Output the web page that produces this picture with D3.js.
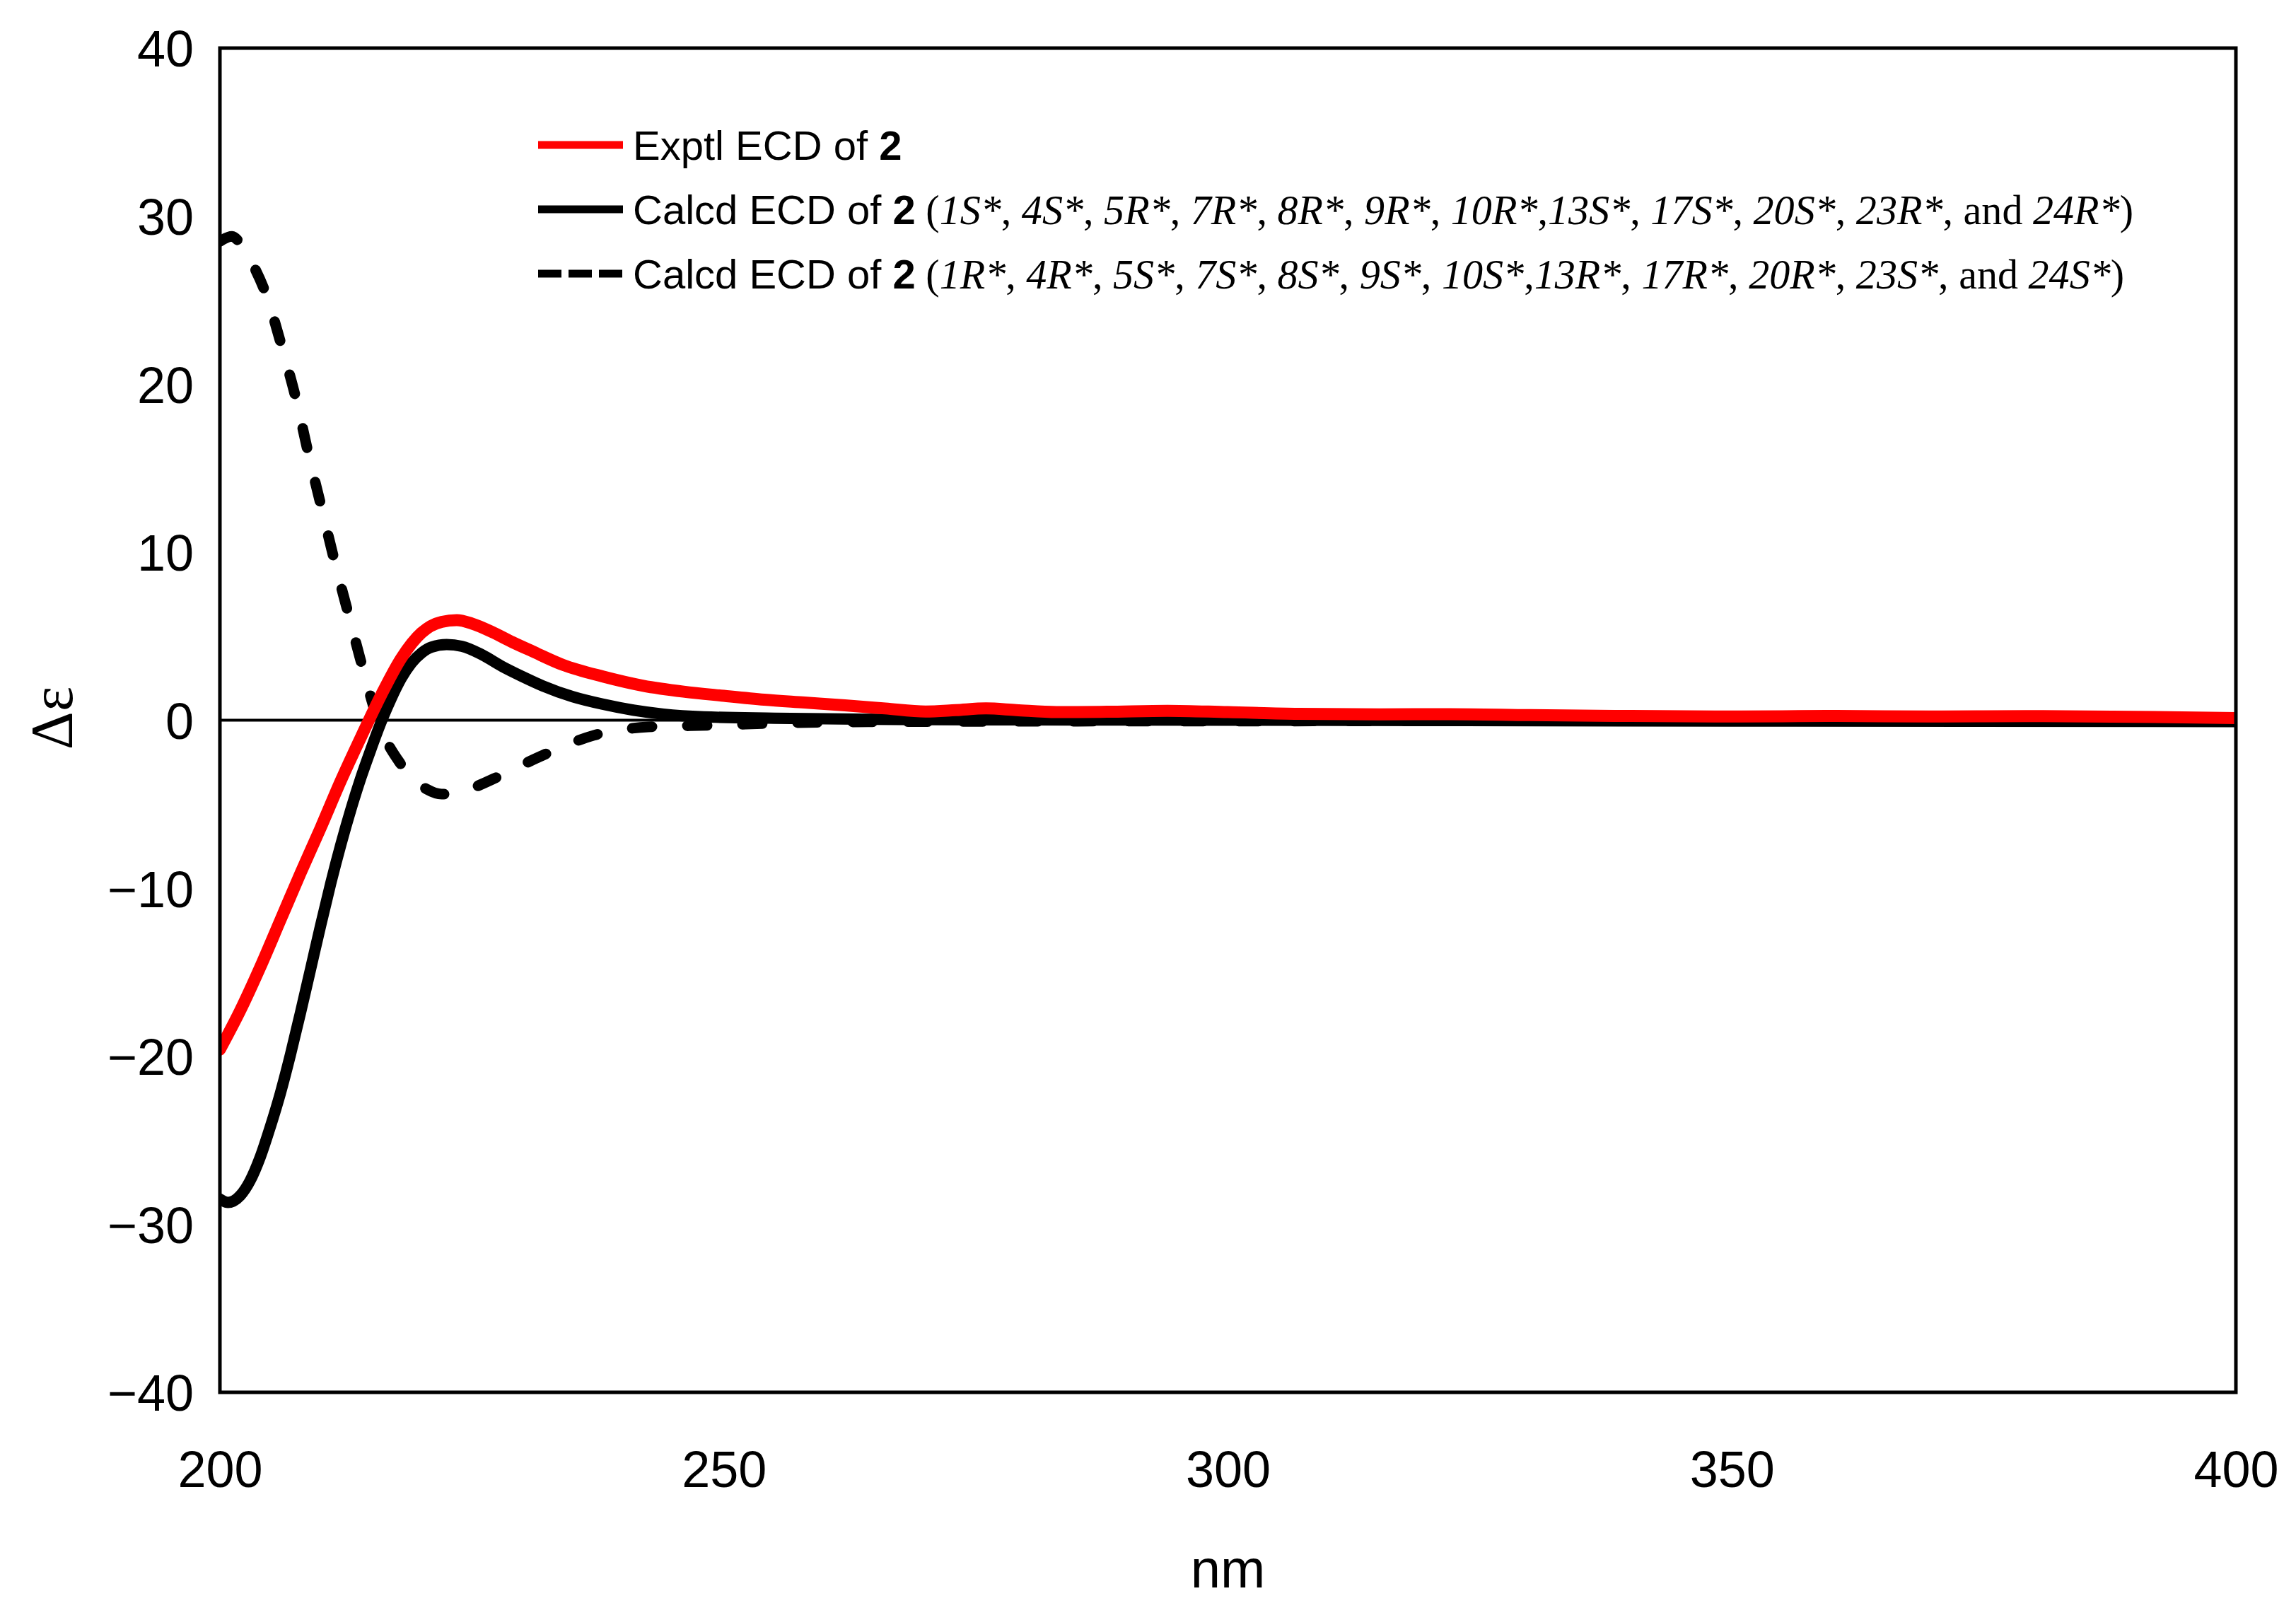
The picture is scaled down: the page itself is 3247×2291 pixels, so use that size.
<!DOCTYPE html>
<html>
<head>
<meta charset="utf-8">
<script src="https://cdn.jsdelivr.net/npm/d3@7"></script>
<style>
  html, body { margin: 0; padding: 0; background: #fff; }
  svg { display: block; }
</style>
</head>
<body>
<script>
// ---------------- DATA ----------------
const xTicks = [200, 250, 300, 350, 400];
const yTicks = [-40, -30, -20, -10, 0, 10, 20, 30, 40];

// Exptl ECD of 2 (red)
const exptlNm = [200, 202, 204, 206, 208, 210, 212, 214, 216, 218, 220, 222, 223.5, 225, 227, 229, 231, 234, 238, 242, 246, 250, 254, 258, 262, 266, 270, 273, 276, 279, 283, 288, 294, 300, 307, 315, 322, 330, 340, 350, 360, 370, 380, 390, 400];
const exptlDe = [-19.6, -17.3, -14.7, -11.9, -9.1, -6.4, -3.6, -1.0, 1.5, 3.7, 5.2, 5.85, 5.95, 5.75, 5.25, 4.65, 4.1, 3.3, 2.6, 2.05, 1.7, 1.45, 1.22, 1.05, 0.88, 0.7, 0.52, 0.6, 0.7, 0.6, 0.48, 0.5, 0.56, 0.48, 0.38, 0.35, 0.36, 0.3, 0.25, 0.22, 0.25, 0.22, 0.24, 0.2, 0.13];

// Calcd ECD of 2 (1S*, 4S*, ...) (black solid)
const calcdANm = [200, 200.8, 202, 203, 204, 205, 206, 207, 208, 209, 210, 211, 212, 213, 214, 215, 216, 217, 218, 219, 220, 221, 222.5, 224, 226, 228, 230, 232, 235, 238, 241, 244, 248, 255, 265, 280, 300, 350, 400];
const calcdADe = [-28.5, -28.7, -28.3, -27.4, -26.0, -24.2, -22.2, -19.9, -17.4, -14.8, -12.2, -9.7, -7.4, -5.3, -3.4, -1.7, -0.1, 1.3, 2.5, 3.4, 4.0, 4.35, 4.5, 4.4, 3.9, 3.2, 2.6, 2.05, 1.4, 0.95, 0.6, 0.36, 0.2, 0.12, 0.05, 0.02, 0.0, -0.05, -0.08];

// Calcd ECD of 2 (1R*, 4R*, ...) (black dashed)
const calcdBNm = [200, 201.2, 202.1, 203.2, 204.6, 206.2, 207.6, 208.8, 210.1, 211.4, 212.8, 213.9, 215.0, 215.6, 216.5, 217.7, 219, 220.5, 222, 223.5, 225, 227.1, 229.5, 232, 234.5, 237.1, 240, 242.5, 249, 257, 270, 300, 350, 400];
const calcdBDe = [28.5, 28.8, 28.3, 27.2, 25.3, 22.1, 19.0, 15.8, 12.6, 9.4, 6.2, 3.7, 1.3, 0.1, -1.2, -2.4, -3.4, -4.1, -4.4, -4.35, -4.05, -3.5, -2.8, -2.1, -1.45, -0.9, -0.55, -0.4, -0.3, -0.15, -0.08, -0.05, -0.04, -0.03];

const legendLabels = ["Exptl ECD of ", "Calcd ECD of ", "Calcd ECD of "];
const descA = ["1S*", "4S*", "5R*", "7R*", "8R*", "9R*", "10R*", "13S*", "17S*", "20S*", "23R*", "24R*"];
const descB = ["1R*", "4R*", "5S*", "7S*", "8S*", "9S*", "10S*", "13R*", "17R*", "20R*", "23S*", "24S*"];

// ---------------- LAYOUT ----------------
const W = 3247, H = 2291;
const plot = { left: 311, right: 3162, top: 68, bottom: 1969 };

const svg = d3.select("body").append("svg")
  .attr("width", W).attr("height", H)
  .attr("viewBox", `0 0 ${W} ${H}`);

const x = d3.scaleLinear().domain([200, 400]).range([plot.left, plot.right]);
const y = d3.scaleLinear().domain([-40, 40]).range([plot.bottom, plot.top]);

const sans = "'Liberation Sans', Arial, Helvetica, sans-serif";
const serif = "'Liberation Serif', 'Times New Roman', Times, serif";

// clip
svg.append("defs").append("clipPath").attr("id", "clip")
  .append("rect")
  .attr("x", plot.left).attr("y", plot.top)
  .attr("width", plot.right - plot.left).attr("height", plot.bottom - plot.top);

// zero line
svg.append("line")
  .attr("x1", plot.left).attr("x2", plot.right)
  .attr("y1", y(0)).attr("y2", y(0))
  .attr("stroke", "#000").attr("stroke-width", 4);

// axes (labels only)
const yAxis = d3.axisLeft(y).tickValues(yTicks).tickSize(0).tickPadding(37);
const gy = svg.append("g").attr("transform", `translate(${plot.left},0)`).call(yAxis);
gy.select(".domain").remove();
gy.selectAll("text").attr("font-family", sans).attr("font-size", 72).attr("fill", "#000").attr("dy", "0.36em");

const xAxis = d3.axisBottom(x).tickValues(xTicks).tickSize(0).tickPadding(0);
const gx = svg.append("g").attr("transform", `translate(0,${plot.bottom})`).call(xAxis);
gx.select(".domain").remove();
gx.selectAll("text").attr("font-family", sans).attr("font-size", 72).attr("fill", "#000")
  .attr("dy", null).attr("y", 2103 - plot.bottom);

// axis titles
svg.append("text")
  .attr("x", (plot.left + plot.right) / 2).attr("y", 2245)
  .attr("text-anchor", "middle")
  .attr("font-family", sans).attr("font-size", 76).attr("fill", "#000")
  .text("nm");

svg.append("text")
  .attr("transform", `translate(102, ${y(0) - 3}) rotate(-90)`)
  .attr("text-anchor", "middle")
  .attr("font-family", serif).attr("font-size", 84).attr("fill", "#000")
  .text("Δε");

// series
const line = d3.line().x(d => x(d[0])).y(d => y(d[1])).curve(d3.curveMonotoneX);
const series = [
  { nm: calcdBNm, de: calcdBDe, color: "#000", width: 15, dash: "28,50", cap: "round" },
  { nm: calcdANm, de: calcdADe, color: "#000", width: 16, dash: null, cap: "round" },
  { nm: exptlNm, de: exptlDe, color: "#ff0000", width: 17, dash: null, cap: "round" }
];
const gLines = svg.append("g").attr("clip-path", "url(#clip)");
series.forEach(s => {
  gLines.append("path")
    .datum(d3.zip(s.nm, s.de))
    .attr("d", line)
    .attr("fill", "none")
    .attr("stroke", s.color)
    .attr("stroke-width", s.width)
    .attr("stroke-linecap", s.cap)
    .attr("stroke-linejoin", "round")
    .attr("stroke-dasharray", s.dash);
});

// frame
svg.append("rect")
  .attr("x", plot.left).attr("y", plot.top)
  .attr("width", plot.right - plot.left).attr("height", plot.bottom - plot.top)
  .attr("fill", "none").attr("stroke", "#000").attr("stroke-width", 5);

// legend
const legRows = [205, 296, 387];
const legSamples = [
  { color: "#ff0000", dash: null },
  { color: "#000", dash: null },
  { color: "#000", dash: "33,10" }
];
const legFont = 58;
legRows.forEach((cy, i) => {
  svg.append("line")
    .attr("x1", 761).attr("x2", 881).attr("y1", cy).attr("y2", cy)
    .attr("stroke", legSamples[i].color).attr("stroke-width", 11)
    .attr("stroke-dasharray", legSamples[i].dash);
  const t = svg.append("text")
    .attr("x", 895).attr("y", cy + 0.36 * legFont)
    .attr("font-family", sans).attr("font-size", legFont).attr("fill", "#000");
  t.append("tspan").text(legendLabels[i]);
  t.append("tspan").attr("font-weight", "bold").text("2");
  if (i > 0) {
    const desc = i === 1 ? descA : descB;
    const st = t.append("tspan").attr("class", "serifpart").attr("font-family", serif);
    st.append("tspan").text(" (");
    desc.forEach((d, k) => {
      if (k === desc.length - 1) st.append("tspan").text(", and ");
      else if (k > 0) st.append("tspan").text(k === 7 ? "," : ", ");
      st.append("tspan").attr("font-style", "italic").text(d);
    });
    st.append("tspan").text(")");
  }
});

// fit serif parts so row 2 ends near x=3017
(function fit() {
  const nodes = svg.selectAll("text").filter(function () { return this.querySelector(".serifpart"); }).nodes();
  if (!nodes.length) return;
  const row = nodes[0];
  let fs = 54;
  svg.selectAll(".serifpart").attr("font-size", fs);
  const bb = row.getBBox();
  const right = bb.x + bb.width;
  const start = row.getStartPositionOfChar(legendLabels[1].length + 1).x;
  const cur = right - start;
  const target = 3017 - start;
  if (cur > 0) {
    fs = fs * target / cur;
    svg.selectAll(".serifpart").attr("font-size", fs.toFixed(2));
  }
})();
</script>
</body>
</html>
